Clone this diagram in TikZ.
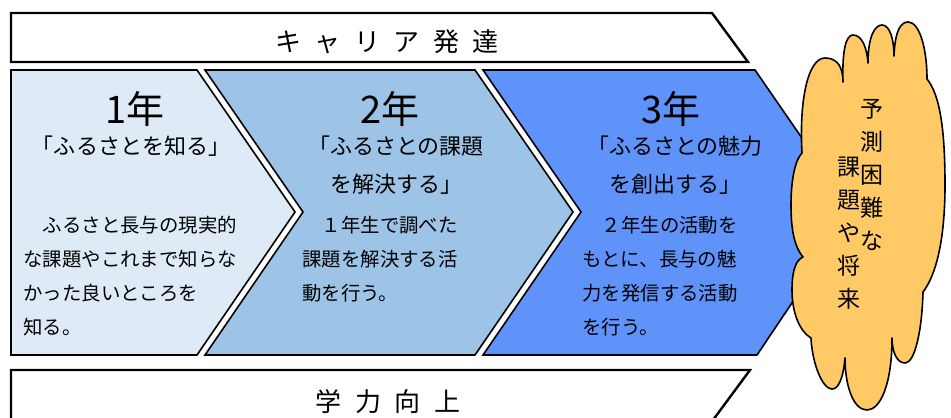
\documentclass[tikz,border=0pt]{standalone}
\usepackage{fontspec}
\setmainfont{Noto Sans CJK JP}
\usetikzlibrary{positioning}
\definecolor{nenOne}{HTML}{DEEAF6}
\definecolor{nenTwo}{HTML}{9DC3E6}
\definecolor{nenThree}{HTML}{5F93FA}
\definecolor{kumo}{HTML}{FFC966}

\begin{document}
\begin{tikzpicture}[x=0.5pt,y=-0.5pt]
      \tikzstyle{banner} = [draw, line width=1.2pt, fill=white, line join=miter]
      \tikzstyle{arrowbox} = [draw, line width=0.8pt, line join=miter]
      \tikzstyle{cloud} = [draw, line width=0.8pt, fill=kumo, line join=round]
      \tikzstyle{gakunen} = [font=\fontsize{19}{21}\selectfont, inner sep=0pt]
      \tikzstyle{theme} = [font=\fontsize{11}{19}\selectfont, align=center, inner sep=0pt]
      \tikzstyle{naiyou} = [font=\fontsize{9.7}{16.9}\selectfont, align=left, anchor=north west, inner sep=0pt]
      \tikzstyle{midashi} = [font=\fontsize{13}{15}\selectfont\addfontfeature{LetterSpace=52}, inner sep=0pt]
      \tikzstyle{tate} = [font=\fontsize{11.5}{16.5}\selectfont, align=center, anchor=north, inner sep=0pt]

      \useasboundingbox (0,0) rectangle (951,417);

      % banners
      \draw[banner] (11,13) -- (712,13) -- (748,62) -- (11,62) -- cycle;
      \draw[banner] (11,425) -- (11,370) -- (750,370) -- (713,420);

      % year chevrons
      \draw[arrowbox, fill=nenOne] (11,70) -- (197,70) -- (295,212) -- (197,355) -- (11,355) -- cycle;
      \draw[arrowbox, fill=nenTwo] (205,70) -- (475,70) -- (573,212) -- (475,355) -- (205,355) -- (303,212) -- cycle;
      \draw[arrowbox, fill=nenThree] (483,70) -- (755,70) -- (853,212) -- (757,355) -- (483,355) -- (581,212) -- cycle;

      % cloud
      \draw[cloud] (802,153) .. controls (799,100) and (808,58) .. (825,58) .. controls (838,58) and (843,68) .. (843,82)
        .. controls (842,50) and (846,35) .. (853,35) .. controls (862,35) and (867,48) .. (868,63)
        .. controls (868,36) and (875,25) .. (882,25) .. controls (890,25) and (894,40) .. (894,56)
        .. controls (895,30) and (901,22) .. (908,22) .. controls (920,22) and (927,50) .. (927,79)
        .. controls (940,95) and (945,130) .. (945,185) .. controls (945,240) and (936,275) .. (923,292)
        .. controls (922,330) and (915,363) .. (905,363) .. controls (896,363) and (892,350) .. (892,338)
        .. controls (892,385) and (880,410) .. (867,410) .. controls (853,410) and (845,385) .. (845,358)
        .. controls (843,380) and (838,389) .. (832,389) .. controls (822,389) and (812,362) .. (811,338)
        .. controls (798,330) and (792,310) .. (792,290) .. controls (792,270) and (796,260) .. (803,257)
        .. controls (793,245) and (791,225) .. (791,205) .. controls (791,180) and (795,160) .. (802,153)
        -- cycle;

      % texts
      \node[midashi] (career) at (387,42) {キャリア発達};
      \node[midashi] (gakuryoku) at (388,402) {学力向上};

      \node[gakunen] (y1) at (135,109) {1年};
      \node[gakunen] (y2) at (390,109) {2年};
      \node[gakunen] (y3) at (671,109) {3年};

      \node[theme] (t1) at (131,146) {「ふるさとを知る」};
      \node[theme] (t2) at (396,165) {「ふるさとの課題\\を解決する」};
      \node[theme] (t3) at (675,165) {「ふるさとの魅力\\を創出する」};

      \node[naiyou] (n1) at (23,216) {　ふるさと長与の現実的\\な課題やこれまで知らな\\かった良いところを\\知る。};
      \node[naiyou] (n2) at (302,216) {　１年生で調べた\\課題を解決する活\\動を行う。};
      \node[naiyou] (n3) at (582,216) {　２年生の活動を\\もとに、長与の魅\\力を発信する活動\\を行う。};

      \node[tate] (mirai1) at (872,99) {予\\測\\困\\難\\な};
      \node[tate] (mirai2) at (849,157) {課\\題\\や\\将\\来};
    \end{tikzpicture}
\end{document}
